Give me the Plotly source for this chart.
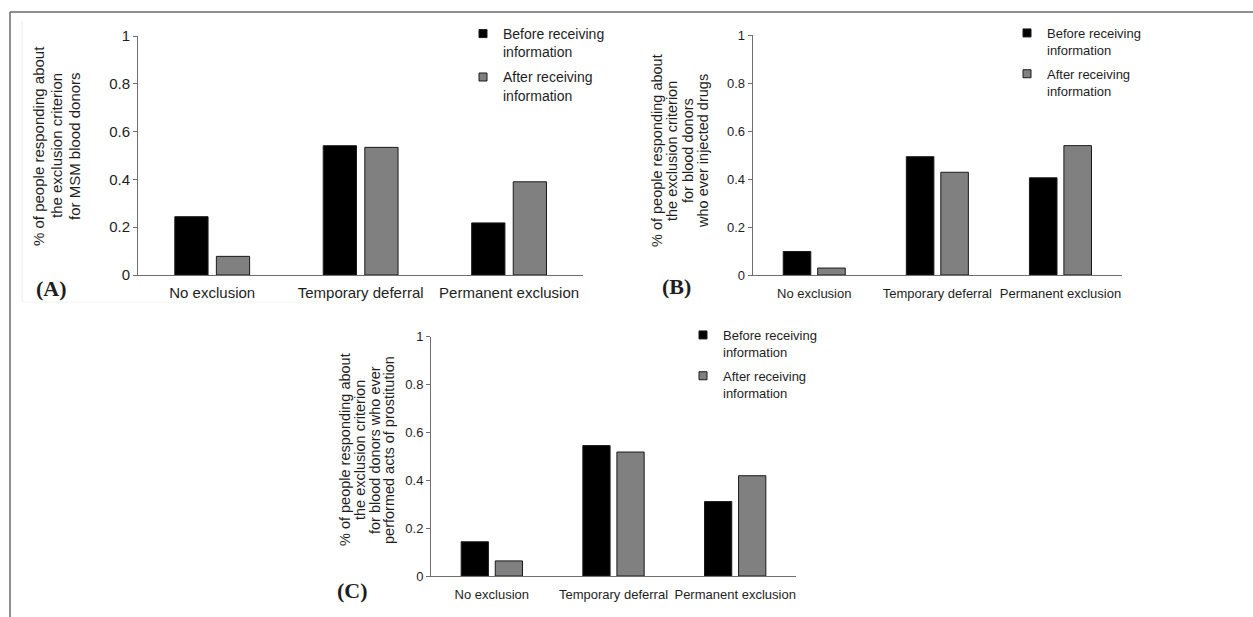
import plotly.graph_objects as go

W, H = 1253, 617

categories = ["No exclusion", "Temporary deferral", "Permanent exclusion"]
series_names = ["Before receiving<br>information", "After receiving<br>information"]

a_before = [0.244, 0.541, 0.218]
a_after = [0.078, 0.534, 0.390]
b_before = [0.098, 0.493, 0.405]
b_after = [0.029, 0.428, 0.539]
c_before = [0.143, 0.545, 0.311]
c_after = [0.063, 0.518, 0.419]

y_tickvals = [0, 0.2, 0.4, 0.6, 0.8, 1]
y_ticktext = ["0", "0.2", "0.4", "0.6", "0.8", "1"]

title_a = ["% of people responding about", "the exclusion criterion", "for MSM blood donors"]
title_b = ["% of people responding about", "the exclusion criterion", "for blood donors", "who ever injected drugs"]
title_c = ["% of people responding about", "the exclusion criterion", "for blood donors who ever", "performed acts of prostitution"]

colors = ["#000000", "#808080"]
TEXT = "#1e1e1e"
AXIS = "#6e6e6e"
FONT = "Liberation Sans, Arial, sans-serif"


def px(x):
    return x / W


def py(y):
    return 1 - y / H


panels = [
    dict(bef=a_before, aft=a_after, xa="x", ya="y", lg="legend", x0=138, x1=583.3, yt=36, yb=275,
         title=title_a, tx=[38, 56, 74], ty=146, tsize=15, fs=15, lab="(A)", lx=51, ly=288, stand=4),
    dict(bef=b_before, aft=b_after, xa="x2", ya="y2", lg="legend2", x0=752.7, x1=1122, yt=35, yb=275,
         title=title_b, tx=[657, 672, 688, 703], ty=151, tsize=14.5, fs=13, lab="(B)", lx=676, ly=287, stand=6),
    dict(bef=c_before, aft=c_after, xa="x3", ya="y3", lg="legend3", x0=431, x1=796, yt=336.7, yb=576,
         title=title_c, tx=[345, 360, 375, 389], ty=450, tsize=14.5, fs=13, lab="(C)", lx=352, ly=590, stand=6),
]

fig = go.Figure()
layout = {}
annotations = []

for i, p in enumerate(panels):
    for k, (vals, name, col) in enumerate(zip([p["bef"], p["aft"]], series_names, colors)):
        fig.add_trace(go.Bar(
            x=categories, y=vals, xaxis=p["xa"], yaxis=p["ya"],
            marker=dict(color=col, line=dict(color="#1a1a1a", width=1)),
            showlegend=False, name=name.replace("<br>", " "),
        ))
        fig.add_trace(go.Scatter(
            x=[None], y=[None], xaxis=p["xa"], yaxis=p["ya"], mode="markers",
            marker=dict(symbol="square", size=8, color=col, line=dict(color="#1a1a1a", width=1)),
            name=name, legend=p["lg"], legendgroup=f"{p['lg']}_{k}", showlegend=True,
        ))
    xkey = "xaxis" + ("" if i == 0 else str(i + 1))
    ykey = "yaxis" + ("" if i == 0 else str(i + 1))
    layout[xkey] = dict(
        domain=[px(p["x0"]), px(p["x1"])], anchor=p["ya"], type="category",
        categoryorder="array", categoryarray=categories,
        showline=True, linecolor=AXIS, linewidth=1, ticks="", tickangle=0,
        showgrid=False, zeroline=False, ticklabelstandoff=p["stand"], automargin=False,
        tickfont=dict(family=FONT, size=p["fs"], color=TEXT), fixedrange=True,
    )
    layout[ykey] = dict(
        domain=[py(p["yb"]), py(p["yt"])], anchor=p["xa"], range=[0, 1],
        tickvals=y_tickvals, ticktext=y_ticktext, automargin=False,
        showline=True, linecolor=AXIS, linewidth=1, ticks="outside",
        ticklen=4, tickcolor=AXIS, showgrid=False, zeroline=False,
        tickfont=dict(family=FONT, size=p["fs"], color=TEXT), fixedrange=True,
    )
    for line, lx in zip(p["title"], p["tx"]):
        annotations.append(dict(
            text=line, x=px(lx), y=py(p["ty"]), xref="paper", yref="paper",
            textangle=-90, showarrow=False, xanchor="center", yanchor="middle",
            font=dict(family=FONT, size=p["tsize"], color=TEXT),
        ))
    annotations.append(dict(
        text="<b>" + p["lab"] + "</b>", x=px(p["lx"]), y=py(p["ly"]), xref="paper", yref="paper",
        showarrow=False, xanchor="center", yanchor="middle",
        font=dict(family="Liberation Serif, Times New Roman, serif", size=22, color=TEXT),
    ))

legend_style = dict(
    bgcolor="rgba(0,0,0,0)",
    xanchor="left", yanchor="top", itemsizing="trace", valign="top",
    tracegroupgap=4, itemclick=False, itemdoubleclick=False,
)
layout["legend"] = dict(x=px(463), y=py(18), font=dict(family=FONT, size=14, color=TEXT), **legend_style)
layout["legend2"] = dict(x=px(1007), y=py(18), font=dict(family=FONT, size=13, color=TEXT), **legend_style)
layout["legend3"] = dict(x=px(683), y=py(320), font=dict(family=FONT, size=13, color=TEXT), **legend_style)

shapes = [
    dict(type="line", xref="paper", yref="paper", x0=px(10), x1=1, y0=py(12), y1=py(12),
         line=dict(color="#6a6a6a", width=1.5)),
    dict(type="line", xref="paper", yref="paper", x0=px(10), x1=px(10), y0=py(12), y1=0,
         line=dict(color="#6a6a6a", width=1.5)),
    dict(type="line", xref="paper", yref="paper", x0=px(22), x1=px(22), y0=py(21), y1=py(302),
         line=dict(color="#ececec", width=1)),
    dict(type="line", xref="paper", yref="paper", x0=px(22), x1=px(300), y0=py(302), y1=py(302),
         line=dict(color="#f2f2f2", width=1)),
]

fig.update_layout(
    width=W, height=H, margin=dict(l=0, r=0, t=0, b=0, autoexpand=False),
    paper_bgcolor="white", plot_bgcolor="white",
    barmode="group", bargap=0.44, bargroupgap=0.2,
    annotations=annotations, shapes=shapes, showlegend=True,
    **layout,
)

fig.write_html(
    "out.html",
    config={"displayModeBar": False},
    post_script="document.body.style.margin='0';document.body.style.overflow='hidden';",
)
